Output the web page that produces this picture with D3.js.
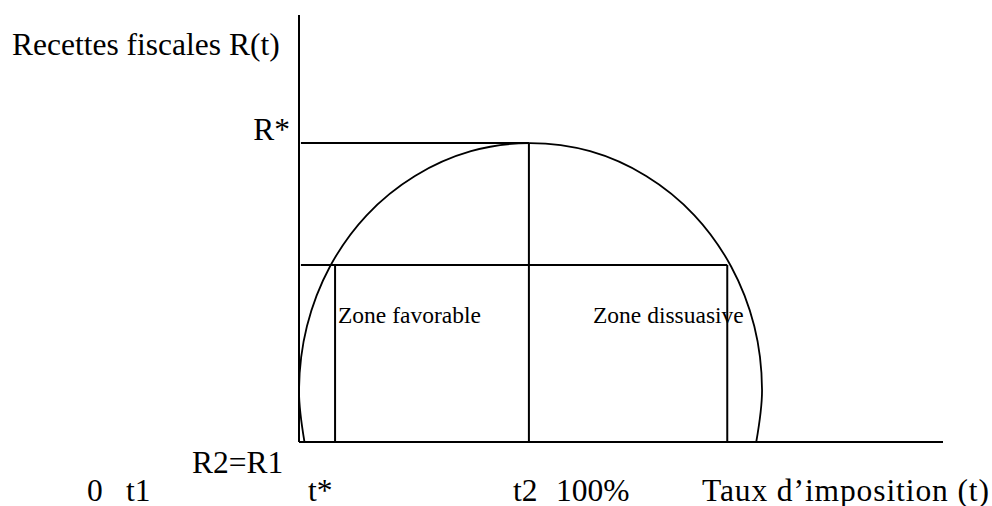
<!DOCTYPE html>
<html>
<head>
<meta charset="utf-8">
<script src="https://d3js.org/d3.v7.min.js"></script>
<style>
  body { margin: 0; background: #fff; }
  text { font-family: "Liberation Serif", "Times New Roman", serif; fill: #000; }
</style>
</head>
<body>
<div id="chart"></div>
<script>
// Laffer-type curve (t in %, R in % of axis height)
var curveT = [0.85, 0, 1.23, 4.81, 10.5, 18.0, 26.7, 35.8, 45.2, 53.9, 61.4, 67.1, 70.7, 71.9, 71.0];
var curveR = [0, 12.2, 27.1, 41.1, 53.1, 62.3, 68.1, 70.0, 68.1, 62.3, 53.1, 41.1, 27.1, 12.2, 0];

// reference levels
var tStar = 5.6, tTwo = 35.7, tRight = 66.5;
var rStar = 70.0, rOne = 41.45;

var axisLabels = ["Recettes fiscales R(t)", "Taux d\u2019imposition (t)"];
var levelLabels = ["R*", "R2=R1"];
var tickLabels = ["0", "t1", "t*", "t2", "100%"];
var zoneLabels = ["Zone favorable", "Zone dissuasive"];

var width = 992, height = 506;

var svg = d3.select("#chart")
  .append("svg")
    .attr("width", width)
    .attr("height", height);

var x = d3.scaleLinear()
  .domain([0, 100])
  .range([299, 943]);

var y = d3.scaleLinear()
  .domain([0, 100])
  .range([442, 15]);

var data = curveT.map(function(t, i) { return {t: t, r: curveR[i]}; });

function seg(x1, y1, x2, y2) {
  svg.append("line")
    .attr("x1", x(x1)).attr("y1", y(y1))
    .attr("x2", x(x2)).attr("y2", y(y2))
    .attr("stroke", "#000")
    .attr("stroke-width", 2);
}

// axes
seg(0, 0, 0, 100);
seg(0, 0, 100, 0);

// level lines
seg(0.3, rStar, tTwo, rStar);
seg(0.3, rOne, tRight, rOne);
seg(tStar, 0, tStar, rOne);
seg(tTwo, 0, tTwo, rStar);
seg(tRight, 0, tRight, rOne);

// the curve
svg.append("path")
  .datum(data)
  .attr("fill", "none")
  .attr("stroke", "#000")
  .attr("stroke-width", 1.8)
  .attr("d", d3.line()
    .x(function(d) { return x(d.t); })
    .y(function(d) { return y(d.r); })
    .curve(d3.curveCatmullRom.alpha(0.5)));

// texts
svg.append("text")
  .attr("x", 12).attr("y", 55)
  .style("font-size", "31.5px")
  .text(axisLabels[0]);

svg.append("text")
  .attr("x", 702).attr("y", 501)
  .attr("textLength", 287)
  .attr("lengthAdjust", "spacing")
  .style("font-size", "31.5px")
  .text(axisLabels[1]);

svg.append("text")
  .attr("x", 290).attr("y", 140)
  .attr("text-anchor", "end")
  .style("font-size", "31.5px")
  .text(levelLabels[0]);

svg.append("text")
  .attr("x", 192).attr("y", 473)
  .style("font-size", "31.5px")
  .text(levelLabels[1]);

var tickX = [87, 126, 308, 513, 556];
svg.selectAll(".tick-label")
  .data(tickLabels)
  .enter()
  .append("text")
    .attr("class", "tick-label")
    .attr("x", function(d, i) { return tickX[i]; })
    .attr("y", 501)
    .style("font-size", "31.5px")
    .text(function(d) { return d; });

svg.selectAll(".zone-label")
  .data(zoneLabels)
  .enter()
  .append("text")
    .attr("class", "zone-label")
    .attr("x", function(d, i) { return i === 0 ? 338 : 593; })
    .attr("y", 323)
    .style("font-size", "23.5px")
    .text(function(d) { return d; });
</script>
</body>
</html>
